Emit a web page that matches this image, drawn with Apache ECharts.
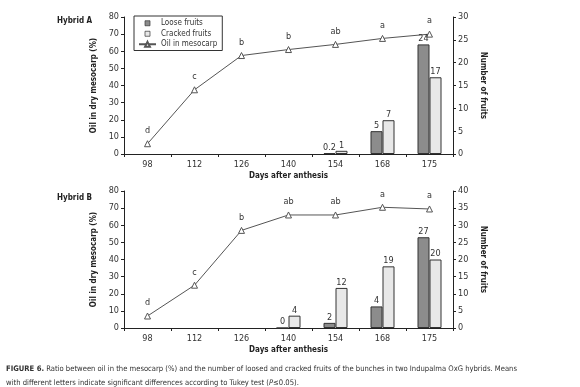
<!DOCTYPE html>
<html>
<head>
<meta charset="utf-8">
<script src="https://cdn.jsdelivr.net/npm/echarts@6/dist/echarts.min.js"></script>
<style>
  html, body { margin: 0; padding: 0; background: #fff; }
  #main { width: 580px; height: 387px; }
</style>
</head>
<body>
<div id="main"></div>
<script>
var days = ['98', '112', '126', '140', '154', '168', '175'];

// Hybrid A
var oilA = [6, 37.5, 57.5, 61, 64, 67.5, 70];
var lettersA = ['d', 'c', 'b', 'b', 'ab', 'a', 'a'];
var looseA = [null, null, null, null, 0.2, 5, 24];
var crackedA = [null, null, null, null, 0.7, 7.4, 16.8];
var looseLabA = ['', '', '', '', '0.2', '5', '24'];
var crackedLabA = ['', '', '', '', '1', '7', '17'];

// Hybrid B
var oilB = [7, 25, 57, 66, 66, 70.5, 69.5];
var lettersB = ['d', 'c', 'b', 'ab', 'ab', 'a', 'a'];
var looseB = [null, null, null, 0, 1.5, 6.3, 26.5];
var crackedB = [null, null, null, 3.6, 11.7, 18, 20];
var looseLabB = ['', '', '', '0', '2', '4', '27'];
var crackedLabB = ['', '', '', '4', '12', '19', '20'];

var font = "'Liberation Sans Narrow', 'Arial Narrow', 'DejaVu Sans Condensed', sans-serif";
var txt = '#333';
var ink = '#222';

var myChart = echarts.init(document.getElementById('main'));

function xAx(gi) {
  return {
    type: 'category', gridIndex: gi, data: days,
    name: 'Days after anthesis', nameLocation: 'middle', nameGap: 18,
    nameTextStyle: {fontFamily: font, fontSize: 8, fontWeight: 'bold', color: ink},
    axisLine: {lineStyle: {color: ink, width: 1}},
    axisTick: {show: true, length: 3, lineStyle: {color: ink}},
    axisLabel: {fontFamily: font, fontSize: 9, color: txt, margin: 6}
  };
}
function leftAx(gi) {
  return {
    type: 'value', gridIndex: gi, min: 0, max: 80, interval: 10, position: 'left',
    name: 'Oil in dry mesocarp (%)', nameLocation: 'middle', nameGap: 22, nameRotate: 90,
    nameTextStyle: {fontFamily: font, fontSize: 8, fontWeight: 'bold', color: ink},
    axisLine: {show: true, lineStyle: {color: ink}},
    axisTick: {show: true, length: 3, lineStyle: {color: ink}},
    axisLabel: {fontFamily: font, fontSize: 9, color: txt, margin: 5},
    splitLine: {show: false}
  };
}
function rightAx(gi, max) {
  return {
    type: 'value', gridIndex: gi, min: 0, max: max, interval: 5, position: 'right',
    name: 'Number of fruits', nameLocation: 'middle', nameGap: 24, nameRotate: -90,
    nameTextStyle: {fontFamily: font, fontSize: 8, fontWeight: 'bold', color: ink},
    axisLine: {show: true, lineStyle: {color: ink}},
    axisTick: {show: true, length: 3, lineStyle: {color: ink}},
    axisLabel: {fontFamily: font, fontSize: 9, color: txt, margin: 5},
    splitLine: {show: false}
  };
}
function barS(name, gi, yi, data, labs, color) {
  return {
    name: name, type: 'bar', xAxisIndex: gi, yAxisIndex: yi, data: data,
    barWidth: 12, barGap: '0%', z: 3,
    itemStyle: {color: color, borderColor: '#333', borderWidth: 1},
    label: {show: true, position: 'top', distance: 1, fontFamily: font, fontSize: 9, color: txt,
      formatter: function (p) { return labs[p.dataIndex]; }},
    animation: false
  };
}
function lineS(gi, yi, data, letters) {
  return {
    name: 'Oil in mesocarp', type: 'line', xAxisIndex: gi, yAxisIndex: yi, data: data,
    symbol: 'triangle', symbolSize: 6,
    lineStyle: {color: '#555', width: 1},
    itemStyle: {color: '#fff', borderColor: '#555', borderWidth: 1},
    label: {show: true, position: 'top', distance: 5, fontFamily: font, fontSize: 9, color: txt,
      formatter: function (p) { return letters[p.dataIndex]; }},
    animation: false, z: 1
  };
}

// square legend icon padded to the same box as the line icon
var sq = 'path://M6,0 L11,0 L11,5 L6,5 Z M0,2.5 L0,2.5 M17,2.5 L17,2.5';

option = {
  backgroundColor: '#fff',
  textStyle: {fontFamily: font},
  title: [
    {text: 'Hybrid A', left: 52, top: 12, textStyle: {fontFamily: font, fontSize: 8, fontWeight: 'bold', color: ink}},
    {text: 'Hybrid B', left: 52, top: 189, textStyle: {fontFamily: font, fontSize: 8, fontWeight: 'bold', color: ink}},
    {
      text: '{b|FIGURE 6.} Ratio between oil in the mesocarp (%) and the number of loosed and cracked fruits of the bunches in two Indupalma OxG hybrids. Means\nwith different letters indicate significant differences according to Tukey test ({i|P}\u22640.05).',
      left: 1, top: 357,
      textStyle: {fontFamily: font, fontSize: 7.6, fontWeight: 'normal', color: '#333', lineHeight: 14,
        rich: {
          b: {fontFamily: font, fontSize: 7.6, fontWeight: 'bold', color: '#333'},
          i: {fontFamily: font, fontSize: 7.6, fontStyle: 'italic', color: '#333'}
        }}
    }
  ],
  legend: {
    orient: 'vertical', left: 134, top: 16,
    padding: [2, 5, 1, 4], itemGap: 0,
    itemWidth: 17, itemHeight: 6,
    borderColor: '#333', borderWidth: 1,
    textStyle: {fontFamily: font, fontSize: 8, color: txt, lineHeight: 10.5},
    data: [
      {name: 'Loose fruits', icon: sq, itemStyle: {borderWidth: 0.7}},
      {name: 'Cracked fruits', icon: sq, itemStyle: {borderWidth: 0.7}},
      {name: 'Oil in mesocarp'}
    ]
  },
  grid: [
    {left: 124, top: 17, width: 329, height: 137},
    {left: 124, top: 191, width: 329, height: 137}
  ],
  xAxis: [xAx(0), xAx(1)],
  yAxis: [leftAx(0), rightAx(0, 30), leftAx(1), rightAx(1, 40)],
  series: [
    barS('Loose fruits', 0, 1, looseA, looseLabA, '#8c8c8c'),
    barS('Cracked fruits', 0, 1, crackedA, crackedLabA, '#e8e8e8'),
    lineS(0, 0, oilA, lettersA),
    barS('Loose fruits', 1, 3, looseB, looseLabB, '#8c8c8c'),
    barS('Cracked fruits', 1, 3, crackedB, crackedLabB, '#e8e8e8'),
    lineS(1, 2, oilB, lettersB)
  ]
};
myChart.setOption(option);
</script>
</body>
</html>
